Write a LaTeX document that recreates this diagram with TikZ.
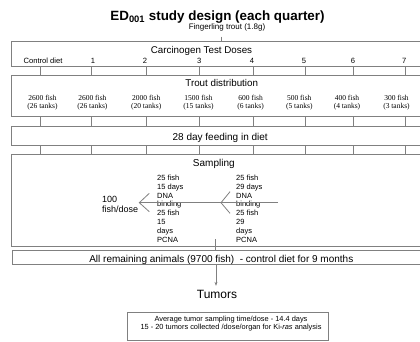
\documentclass[tikz,border=0pt]{standalone}
\usepackage{fontspec}
\setmainfont{Liberation Sans}
\newfontfamily\serifnum{Liberation Serif}
\usetikzlibrary{arrows.meta}
\definecolor{linegray}{rgb}{0.5,0.5,0.5}
\tikzset{
  box/.style={draw=linegray, line width=0.8pt, inner sep=0pt, outer sep=0pt, anchor=north west},
  conn/.style={draw=linegray, line width=0.8pt},
  lbl/.style={inner sep=0pt, anchor=base, text=black},
  dosef/.style={lbl, font=\fontsize{7.6}{9}\selectfont},
  fishf/.style={lbl, font=\serifnum\fontsize{7.5}{8}\selectfont, align=center},
  headf/.style={lbl, font=\fontsize{9.8}{11}\selectfont},
  sampf/.style={inner sep=0pt, anchor=west, align=left, font=\fontsize{7.5}{8.9}\selectfont}
}
\begin{document}
\begin{tikzpicture}[x=1pt,y=-1pt]
\useasboundingbox (0,0) rectangle (420,341);
\clip (0,0) rectangle (420,341);
% title
\node[lbl, font=\bfseries\fontsize{13.4}{15}\selectfont] (title) at (217.5,20) {ED\textsubscript{001} study design (each quarter)};
\node[lbl, font=\fontsize{8}{9}\selectfont] (fing) at (227,29) {Fingerling trout (1.8g)};
\coordinate (tk) at (221,36.7);
% boxes
\node[box, minimum width=430pt, minimum height=25pt] (b1) at (11,41.7) {};
\node[box, minimum width=430pt, minimum height=41pt] (b2) at (11,75.7) {};
\node[box, minimum width=430pt, minimum height=18.3pt] (b3) at (11,126.7) {};
\node[box, minimum width=430pt, minimum height=91.7pt] (b4) at (11,154.3) {};
\node[box, minimum width=430pt, minimum height=13.6pt] (b5) at (12.3,250.7) {};
\node[box, minimum width=201pt, minimum height=27.3pt] (b6) at (127.3,312.7) {};
\draw[conn] (tk) -- (tk |- b1.north);
% box 1 texts
\node[headf] (cth) at (201.5,53.5) {Carcinogen Test Doses};
\node[dosef] (d0) at (43,63.3) {Control diet};
\node[dosef] (d1) at (93,63.3) {1};
\node[dosef] (d2) at (145,63.3) {2};
\node[dosef] (d3) at (199.3,63.3) {3};
\node[dosef] (d4) at (252,63.3) {4};
\node[dosef] (d5) at (304,63.3) {5};
\node[dosef] (d6) at (353,63.3) {6};
\node[dosef] (d7) at (404.3,63.3) {7};
% ticks
\foreach \x in {40,91,146,199.5,253,305,353.5,405}{
  \draw[conn] (\x,0 |- b1.south) -- (\x,0 |- b2.north);
  \draw[conn] (\x,0 |- b2.south) -- (\x,0 |- b3.north);
  \draw[conn] (\x,0 |- b3.south) -- (\x,0 |- b4.north);
}
% box 2 texts
\node[headf] (tdh) at (221.7,86.7) {Trout distribution};
\node[fishf] (f0) at (42.5,108.7) {2600 fish\\(26 tanks)};
\node[fishf] (f1) at (92.4,108.7) {2600 fish\\(26 tanks)};
\node[fishf] (f2) at (146.2,108.7) {2000 fish\\(20 tanks)};
\node[fishf] (f3) at (198.5,108.7) {1500 fish\\(15 tanks)};
\node[fishf] (f4) at (250.6,108.7) {600 fish\\(6 tanks)};
\node[fishf] (f5) at (299.3,108.7) {500 fish\\(5 tanks)};
\node[fishf] (f6) at (347,108.7) {400 fish\\(4 tanks)};
\node[fishf] (f7) at (396.5,108.7) {300 fish\\(3 tanks)};
% box 3
\node[headf, font=\fontsize{10}{11}\selectfont] (feed) at (220.2,140.5) {28 day feeding in diet};
% box 4
\node[headf, font=\fontsize{10}{11}\selectfont] (samp) at (213.8,166) {Sampling};
\node[sampf] (sl) at (157,208.7) {25 fish\\15 days\\DNA\\binding\\25 fish\\15\\days\\PCNA};
\node[sampf] (sr) at (236,208.7) {25 fish\\29 days\\DNA\\binding\\25 fish\\29\\days\\PCNA};
\node[inner sep=0pt, anchor=west, align=left, font=\fontsize{9}{10.3}\selectfont] (hund) at (102,204.4) {100\\fish/dose};
\coordinate (r) at (278,202.7);
\coordinate (c2) at (221,202.7);
\coordinate (c1) at (139.3,202.7);
\draw[conn] (r) -- (c1);
\draw[conn] (230,191.7) -- (c2) -- (230,213.3);
\draw[conn] (149.3,193.3) -- (c1) -- (149.3,211.7);
\coordinate (s1) at (215.7,239);
\draw[conn] (s1) -- (s1 |- b5.north);
% box 5
\node[headf, font=\fontsize{10}{11}\selectfont] (rem) at (221.3,262) {All remaining animals (9700 fish) \ - control diet for 9 months};
% tumors
\node[lbl, font=\fontsize{12}{14}\selectfont] (tum) at (217,298.3) {Tumors};
\draw[conn, -{Stealth[length=4pt,width=3pt]}, shorten >=4pt] (216,0 |- b5.south) -- (216,0 |- tum.north);
\node[lbl, font=\fontsize{7.4}{8}\selectfont, align=center] (avg) at (231,329.5) {Average tumor sampling time/dose - 14.4 days\\15 - 20 tumors collected /dose/organ for Ki-\textit{ras} analysis};
\end{tikzpicture}
\end{document}
